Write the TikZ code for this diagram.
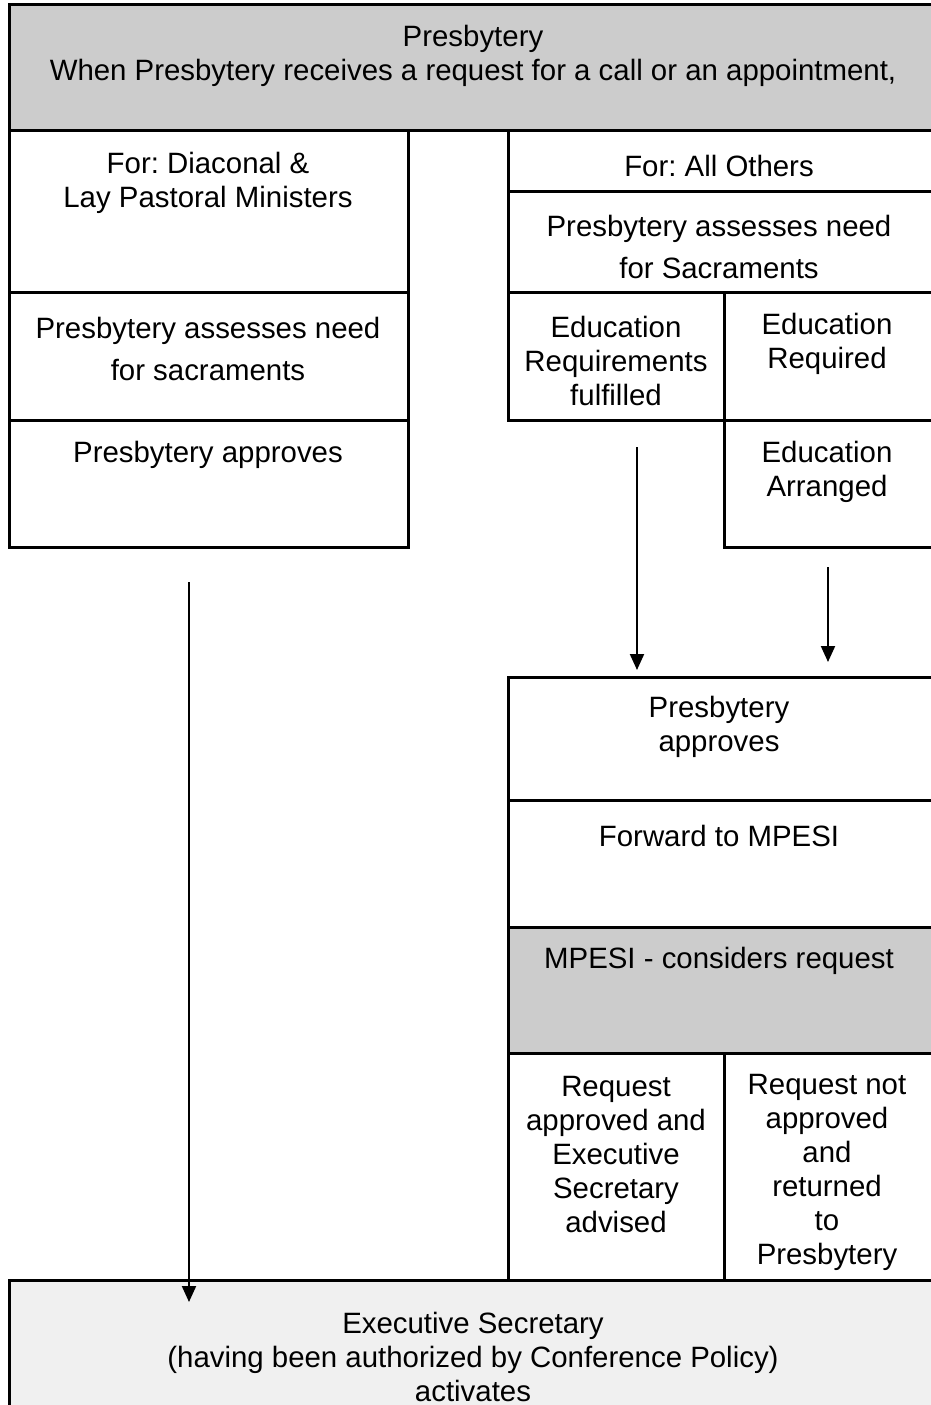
\documentclass[tikz,border=0pt]{standalone}
\usepackage{fontspec}
\setmainfont{Liberation Sans}
\usepackage{tikz}
\usetikzlibrary{arrows.meta,positioning}
\definecolor{Shade}{HTML}{CCCCCC}
\definecolor{Pale}{HTML}{F0F0F0}
\frenchspacing

\begin{document}
\begin{tikzpicture}[x=0.5pt,y=-0.5pt,
  box/.style={draw=black,line width=1.5pt},
  txt/.style={align=center,inner sep=0pt,font=\fontsize{14.7}{17}\selectfont},
  arr/.style={line width=1pt,-{Triangle[length=8pt,width=7pt]}}]
\useasboundingbox (0,0) rectangle (931,1405);
\clip (0,0) rectangle (931,1405);
% top and bottom bands
\draw[box,fill=Shade] (9,4) rectangle (940,130);
\draw[box,fill=Pale] (9,1280) rectangle (940,1412);
% left column
\draw[box] (9,130) rectangle (408,292);
\draw[box] (9,292) rectangle (408,420);
\draw[box] (9,420) rectangle (408,547);
% right column, upper part
\draw[box] (508,130) rectangle (935,191);
\draw[box] (508,191) rectangle (935,292);
\draw[box] (508,292) rectangle (724,420);
\draw[box] (724,292) rectangle (935,420);
\draw[box] (724,420) rectangle (935,547);
% right column, lower part
\draw[box] (508,677) rectangle (935,800);
\draw[box] (508,800) rectangle (935,927);
\draw[box,fill=Shade] (508,927) rectangle (935,1053);
\draw[box] (508,1053) rectangle (724,1280);
\draw[box] (724,1053) rectangle (935,1280);

\node[txt] (presb) at (473,56) {Presbytery\\When Presbytery receives a request for a call or an appointment,};
\node[txt] (diac) at (208,183) {For: Diaconal \&\\Lay Pastoral Ministers};
\node[txt] (sacl) at (208,349) {Presbytery assesses need\\[4pt]for sacraments};
\node[txt] (apprl) at (208,455) {Presbytery approves};
\node[txt] (others) at (719,166) {For: All Others};
\node[txt] (sacr) at (719,247) {Presbytery assesses need\\[4pt]for Sacraments};
\node[txt] (edudone) at (616,361) {Education\\Requirements\\fulfilled};
\node[txt] (edureq) at (827,344) {Education\\Required};
\node[txt] (eduarr) at (827,472) {Education\\Arranged};
\node[txt] (apprr) at (719,727) {Presbytery\\approves};
\node[txt] (fwd) at (719,836) {Forward to MPESI};
\node[txt] (mpesi) at (719,961) {MPESI - considers request};
\node[txt] (yes) at (616,1155) {Request\\approved and\\Executive\\Secretary\\advised};
\node[txt] (no) at (827,1172) {Request not\\approved\\and\\returned\\to\\Presbytery};
\node[txt] (exec) at (473,1357) {Executive Secretary\\(having been authorized by Conference Policy)\\activates};

\coordinate (a1s) at (637,447);
\coordinate (a1e) at (637,670);
\coordinate (a2s) at (828,567);
\coordinate (a2e) at (828,662);
\coordinate (a3s) at (189,582);
\coordinate (a3e) at (189,1302);
\draw[arr] (a1s) -- (a1e);
\draw[arr] (a2s) -- (a2e);
\draw[arr] (a3s) -- (a3e);
\end{tikzpicture}
\end{document}
